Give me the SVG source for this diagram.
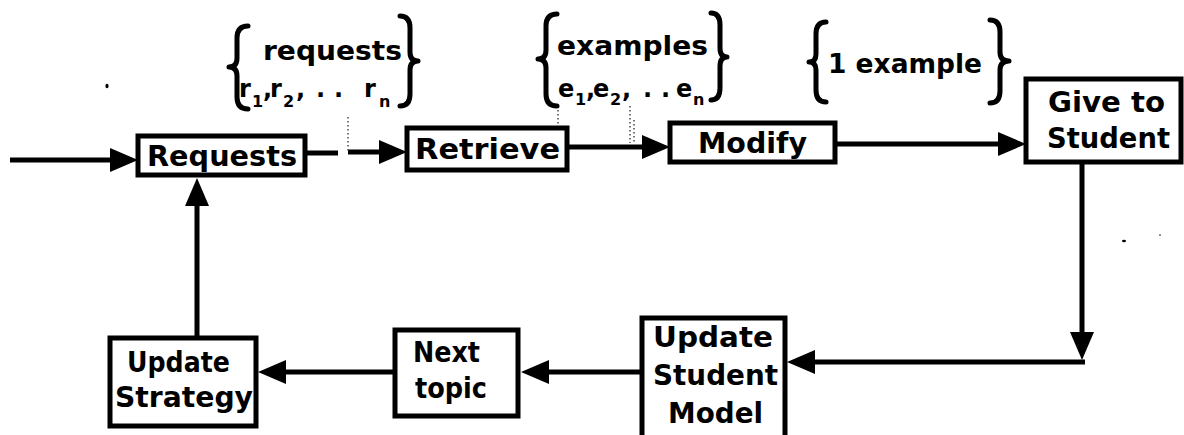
<svg xmlns="http://www.w3.org/2000/svg" width="1184" height="435" viewBox="0 0 1184 435">
<style>
.box{fill:#fff;stroke:#000;stroke-width:5}
.lbl{font-family:"DejaVu Sans","Liberation Sans",sans-serif;font-weight:bold;font-size:28px;fill:#000}
.ann{font-family:"DejaVu Sans","Liberation Sans",sans-serif;font-weight:bold;font-size:26px;fill:#000}
.ann2{font-family:"DejaVu Sans","Liberation Sans",sans-serif;font-weight:bold;font-size:24px;fill:#000}
.sub{font-size:16px}
.conn{fill:none;stroke:#000;stroke-width:5}
.dot{fill:none;stroke:#555;stroke-width:1.6;stroke-dasharray:1.5 2.5}
.brace{fill:none;stroke:#000;stroke-width:5;stroke-linecap:round;stroke-linejoin:round}
</style>
<defs>
<marker id="ah" markerUnits="userSpaceOnUse" markerWidth="30" markerHeight="26" refX="16" refY="12" orient="auto">
<path d="M0,0 L28,12 L0,24 z" fill="#000"/>
</marker>
</defs>
<rect width="1184" height="435" fill="#fff"/>

<g id="connectors">
<path class="conn" d="M10,160 H126" marker-end="url(#ah)"/>
<path class="conn" d="M305,153 H338"/>
<path class="conn" d="M348,152 H395" marker-end="url(#ah)"/>
<path class="conn" d="M567,147 H658" marker-end="url(#ah)"/>
<path class="conn" d="M835,144 H1014" marker-end="url(#ah)"/>
<path class="conn" d="M1082,162 V348" marker-end="url(#ah)"/>
<path class="conn" d="M1085,362 H799" marker-end="url(#ah)"/>
<path class="conn" d="M642,372 H533" marker-end="url(#ah)"/>
<path class="conn" d="M395,372 H270" marker-end="url(#ah)"/>
<path class="conn" d="M197,338 V190" marker-end="url(#ah)"/>
<path class="dot" d="M348,117 V153"/>
<path class="dot" d="M558,106 V124"/>
<path class="dot" d="M630,106 V143 M634,120 V143"/>
</g>

<g id="annotation-requests">
<path class="brace" d="M248,26 Q237,26 237,38 L237,58 Q237,67 229,67 Q237,67 237,76 L237,97 Q237,109 248,109"/>
<path class="brace" d="M400,16 Q410,16 410,28 L410,52 Q410,61 418,61 Q410,61 410,70 L410,94 Q410,106 400,106"/>
<text class="ann" x="263" y="60" textLength="139" lengthAdjust="spacingAndGlyphs">requests</text>
<text class="ann2"><tspan x="239" y="97">r</tspan><tspan class="sub" x="252" y="107">1</tspan><tspan x="263" y="97">,</tspan><tspan x="270" y="97">r</tspan><tspan class="sub" x="283" y="107">2</tspan><tspan x="296" y="97">,</tspan><tspan x="316" y="97">.</tspan><tspan x="334" y="97">.</tspan><tspan x="364" y="97">r</tspan><tspan class="sub" x="379" y="107">n</tspan></text>
</g>

<g id="annotation-examples">
<path class="brace" d="M557,14 Q546,14 546,26 L546,50 Q546,59 538,59 Q546,59 546,68 L546,94 Q546,106 557,106"/>
<path class="brace" d="M711,13 Q720,13 720,25 L720,48 Q720,57 727,57 Q720,57 720,66 L720,88 Q720,100 711,100"/>
<text class="ann" x="557" y="55" textLength="151" lengthAdjust="spacingAndGlyphs">examples</text>
<text class="ann2"><tspan x="558" y="97">e</tspan><tspan class="sub" x="575" y="105">1</tspan><tspan x="586" y="97">,</tspan><tspan x="593" y="97">e</tspan><tspan class="sub" x="610" y="105">2</tspan><tspan x="622" y="97">,</tspan><tspan x="643" y="97">.</tspan><tspan x="661" y="97">.</tspan><tspan x="676" y="97">e</tspan><tspan class="sub" x="693" y="105">n</tspan></text>
</g>

<g id="annotation-one-example">
<path class="brace" d="M826,22 Q816,22 816,34 L816,54 Q816,62 809,62 Q816,62 816,70 L816,90 Q816,102 826,102"/>
<path class="brace" d="M990,20 Q1000,20 1000,32 L1000,52 Q1000,61 1009,61 Q1000,61 1000,70 L1000,91 Q1000,103 990,103"/>
<text class="ann" x="828" y="73" textLength="154" lengthAdjust="spacingAndGlyphs">1 example</text>
</g>

<g id="node-requests">
<rect class="box" x="138" y="136" width="167" height="39"/>
<text class="lbl" x="147" y="166" textLength="150" lengthAdjust="spacingAndGlyphs">Requests</text>
</g>
<g id="node-retrieve">
<rect class="box" x="407" y="128" width="160" height="42"/>
<text class="lbl" x="415" y="159" textLength="145" lengthAdjust="spacingAndGlyphs">Retrieve</text>
</g>
<g id="node-modify">
<rect class="box" x="670" y="123" width="165" height="39"/>
<text class="lbl" x="698" y="153" textLength="109" lengthAdjust="spacingAndGlyphs">Modify</text>
</g>
<g id="node-give-to-student">
<rect class="box" x="1026" y="79" width="155" height="83"/>
<text class="lbl" x="1048" y="112" textLength="117" lengthAdjust="spacingAndGlyphs">Give to</text>
<text class="lbl" x="1047" y="148" textLength="123" lengthAdjust="spacingAndGlyphs">Student</text>
</g>
<g id="node-update-student-model">
<rect class="box" x="642" y="318" width="143" height="130"/>
<text class="lbl" x="653" y="347" textLength="120" lengthAdjust="spacingAndGlyphs">Update</text>
<text class="lbl" x="653" y="385" textLength="125" lengthAdjust="spacingAndGlyphs">Student</text>
<text class="lbl" x="668" y="423" textLength="95" lengthAdjust="spacingAndGlyphs">Model</text>
</g>
<g id="node-next-topic">
<rect class="box" x="395" y="330" width="123" height="86"/>
<text class="lbl" x="413" y="362" textLength="67" lengthAdjust="spacingAndGlyphs">Next</text>
<text class="lbl" x="415" y="398" textLength="72" lengthAdjust="spacingAndGlyphs">topic</text>
</g>
<g id="node-update-strategy">
<rect class="box" x="110" y="338" width="146" height="88"/>
<text class="lbl" x="127" y="372" textLength="103" lengthAdjust="spacingAndGlyphs">Update</text>
<text class="lbl" x="115" y="407" textLength="138" lengthAdjust="spacingAndGlyphs">Strategy</text>
</g>

<g id="specks" fill="#000">
<ellipse cx="107" cy="86" rx="1.6" ry="2.2"/>
<ellipse cx="1124" cy="241" rx="2" ry="1.2"/>
<circle cx="1160" cy="235" r="0.8"/>
</g>
</svg>
